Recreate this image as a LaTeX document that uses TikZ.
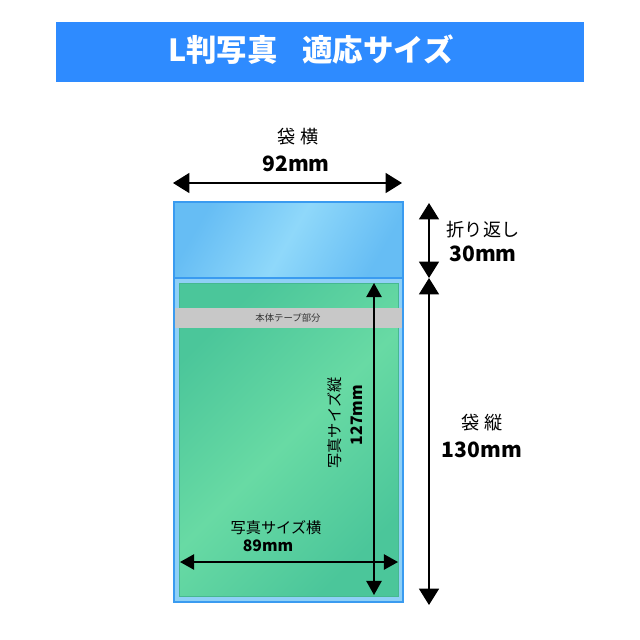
\documentclass[tikz,border=0pt]{standalone}
\usepackage{fontspec}
\setmainfont{Noto Sans CJK JP}
\usetikzlibrary{arrows.meta}
\definecolor{bannerblue}{HTML}{2E8BFF}
\definecolor{bagedge}{HTML}{3A9BF0}
\definecolor{flapdark}{HTML}{66BDF4}
\definecolor{flaplight}{HTML}{8FD8FA}
\definecolor{bodyblue}{HTML}{8FD0F6}
\definecolor{photodark}{HTML}{4BC69A}
\definecolor{photolight}{HTML}{68DAA4}
\definecolor{photoedge}{HTML}{46B890}
\definecolor{tapegray}{HTML}{C8C8C8}

\begin{document}
\begin{tikzpicture}[x=0.03cm,y=-0.03cm,
    bigdim/.style={line width=1.7pt,{Triangle[length=14pt,width=17pt]}-{Triangle[length=14pt,width=17pt]}},
    smalldim/.style={line width=1.5pt,{Triangle[length=12pt,width=13pt]}-{Triangle[length=12pt,width=13pt]}},
    biglabel/.style={font=\fontsize{15.5}{17}\selectfont,inner sep=0pt},
    bignum/.style={font=\fontsize{18}{20}\selectfont\bfseries,inner sep=0pt},
    smalllabel/.style={font=\fontsize{13}{15}\selectfont,inner sep=0pt},
    smallnum/.style={font=\fontsize{13.5}{15}\selectfont\bfseries,inner sep=0pt}]
    \useasboundingbox (0,0) rectangle (640,640);
    \fill[white] (0,0) rectangle (640,640);

    \fill[bannerblue] (56,22) rectangle (584,82);
    \node[text=white,font=\fontsize{26}{28}\selectfont\bfseries] (title) at (311,50) {L判写真\hspace{0.8em}適応サイズ};

    \fill[bodyblue] (174,278) rectangle (403,602);
    \shade[left color=flapdark,right color=flapdark,middle color=flaplight,shading angle=60] (174,202) rectangle (403,278);
    \shade[left color=photodark,right color=photodark,middle color=photolight,shading angle=45] (179,283) rectangle (398,596);
    \draw[photoedge,line width=0.8pt] (179,283) rectangle (398,596);
    \draw[bagedge,line width=1.2pt] (174,202) rectangle (403,602);
    \draw[bagedge,line width=1.2pt] (174,278) -- (403,278);

    \fill[tapegray] (175,308) rectangle (402,328);
    \node[font=\fontsize{8}{9}\selectfont,text=black!80] (tape) at (288,318) {本体テープ部分};

    \coordinate (wl) at (173,183);
    \coordinate (wr) at (402,183);
    \draw[bigdim] (wl) -- (wr);
    \node[biglabel] (bagw) at (298,137) {袋 横};
    \node[bignum] (bagwn) at (296,164) {92mm};

    \coordinate (ftop) at (429,203);
    \coordinate (fmid) at (429,278);
    \coordinate (fbot) at (429,605);
    \draw[bigdim] (ftop) -- (fmid);
    \draw[bigdim] (fmid) -- (fbot);
    \node[biglabel] (flap) at (483,230) {折り返し};
    \node[bignum] (flapn) at (483,254) {30mm};
    \node[biglabel] (bagh) at (482,423) {袋 縦};
    \node[bignum] (baghn) at (482,450) {130mm};

    \coordinate (pt) at (374,283);
    \coordinate (pb) at (374,595);
    \draw[smalldim] (pt) -- (pb);
    \node[smalllabel,rotate=90] (photoh) at (335,423) {写真サイズ縦};
    \node[smallnum,rotate=90] (photohn) at (357,415) {127mm};

    \coordinate (pl) at (180,562);
    \coordinate (pr) at (398,562);
    \draw[smalldim] (pl) -- (pr);
    \node[smalllabel] (photow) at (276,528) {写真サイズ横};
    \node[smallnum] (photown) at (268,546) {89mm};
\end{tikzpicture}
\end{document}
